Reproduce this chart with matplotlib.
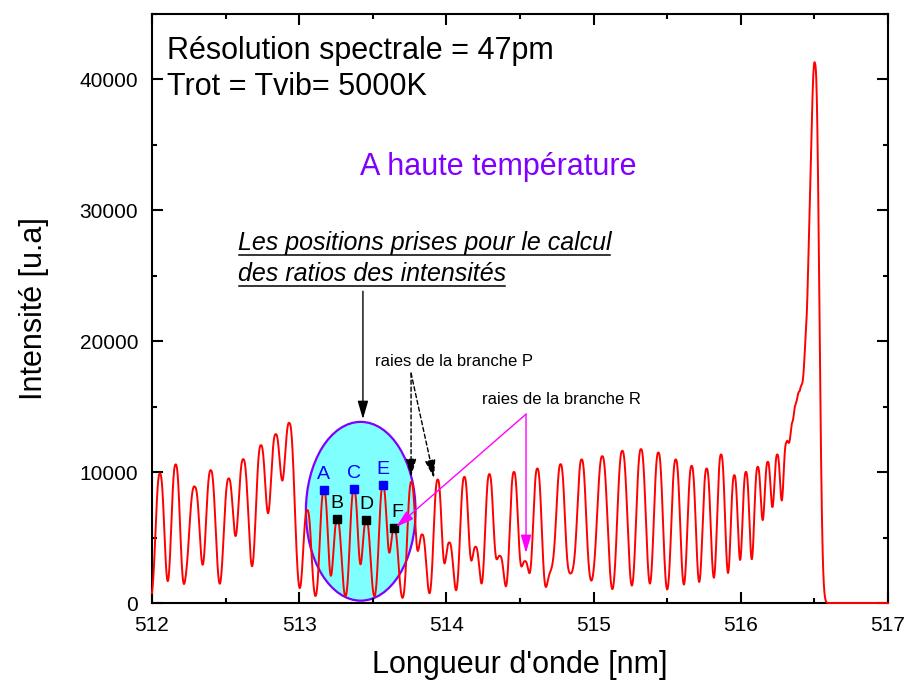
import numpy as np
import matplotlib
matplotlib.use('Agg')
import matplotlib.pyplot as plt
from matplotlib.patches import Ellipse
from matplotlib.ticker import MultipleLocator

plt.rcParams['font.family'] = ['Liberation Sans', 'DejaVu Sans']

# lines: centre (nm), summit intensity (u.a), apparent width (pm)
line_nm = [512.054, 512.161, 512.245, 512.292, 512.399, 512.521, 512.620, 512.740, 512.840, 512.933,
           513.055, 513.168, 513.259, 513.372, 513.456, 513.569, 513.646, 513.762, 513.836, 513.941,
           514.020, 514.122, 514.199, 514.292, 514.365, 514.459, 514.535, 514.618, 514.710, 514.776,
           514.850, 514.919, 514.990,
           515.059, 515.195, 515.322, 515.440, 515.558, 515.666, 515.768, 515.866, 515.956,
           516.035, 516.115, 516.183, 516.248, 516.309, 516.355, 516.400, 516.450,
           516.504]
line_peak = [9900, 10590, 4050, 8880, 10150, 9520, 10990, 12060, 12900, 13760,
             7100, 8630, 6410, 8700, 6340, 9010, 5700, 9260, 5240, 9440,
             4630, 9640, 4300, 9850, 3600, 10020, 3200, 10280, 2500, 10610,
             2300, 10970, 1800,
             11220, 11630, 11760, 11500, 10970, 10480, 10280, 11350, 9770,
             10020, 10410, 10790, 11350, 12270, 14000, 16200, 22600,
             41250]
line_fwhm_pm = [64, 64, 50, 72, 72, 72, 78, 76, 80, 78,
                60, 60, 60, 60, 60, 60, 60, 60, 58, 60,
                58, 62, 56, 62, 56, 62, 56, 64, 56, 66,
                56, 68, 56,
                76, 74, 70, 66, 64, 61, 60, 59, 54,
                54, 55, 54, 54, 48, 44, 50, 50,
                64]
profile_exp = 2.5   # flat-topped instrument profile

# positions used for the intensity ratios
ratio_labels = ['A', 'B', 'C', 'D', 'E', 'F']
ratio_nm = [513.168, 513.259, 513.372, 513.456, 513.569, 513.646]
ratio_int = [8630, 6410, 8700, 6340, 9010, 5700]
ratio_colors = ['#0000ff', 'black', '#0000ff', 'black', '#0000ff', 'black']

x_ticks = [512, 513, 514, 515, 516, 517]
y_ticks = [0, 10000, 20000, 30000, 40000]


def profile(d, w):
    return np.exp(-np.log(2) * np.abs(2 * d / w) ** profile_exp)


def synth_spectrum(wl):
    pos = np.array(line_nm)
    w = np.array(line_fwhm_pm) * 1e-3
    # amplitudes so that each summit lands on the height read on the chart
    g = profile(pos[:, None] - pos[None, :], w[None, :])
    amp = np.linalg.solve(g, np.array(line_peak, dtype=float))
    return (amp * profile(wl[:, None] - pos, w)).sum(axis=1)


def underline(fig, ax, txt, x, y, gap=5):
    fig.canvas.draw()
    bb = txt.get_window_extent()
    _, yb = ax.transData.transform((x, y))
    inv = ax.transData.inverted()
    p0 = inv.transform((bb.x0 + 1, yb - gap))
    p1 = inv.transform((bb.x1 - 1, yb - gap))
    ax.plot([p0[0], p1[0]], [p0[1], p1[1]], color='black', lw=1.1,
            clip_on=False, zorder=6)


fig = plt.figure(figsize=(9.09, 6.84), dpi=100)
ax = fig.add_axes([0.1672, 0.1184, 0.8097, 0.8611])

wl = np.linspace(512, 517, 4001)
ax.add_patch(Ellipse((513.418, 7010), 0.745, 13660, facecolor='#80ffff',
                     edgecolor='#8000ff', lw=1.6, zorder=1))
ax.plot(wl, synth_spectrum(wl), color='red', lw=1.4, zorder=3, clip_on=False)

for lab, x, y, c in zip(ratio_labels, ratio_nm, ratio_int, ratio_colors):
    ax.plot(x, y, marker='s', ms=6, color=c, ls='none', zorder=4)
    dx = 2 if lab == 'F' else 0
    ax.annotate(lab, (x, y), xytext=(dx, 8), textcoords='offset points',
                ha='center', va='baseline', fontsize=14, color=c, zorder=5)

ax.text(512.102, 41580, 'Résolution spectrale = 47pm', fontsize=22, va='baseline')
ax.text(512.102, 38780, 'Trot = Tvib= 5000K', fontsize=22, va='baseline')
ax.text(513.413, 32670, 'A haute température', fontsize=22, va='baseline',
        color='#8000ff')

t1 = ax.text(512.584, 26950, 'Les positions prises pour le calcul', fontsize=18,
             style='italic', va='baseline')
t2 = ax.text(512.584, 24600, 'des ratios des intensités', fontsize=18,
             style='italic', va='baseline')

ax.text(513.515, 18090, 'raies de la branche P', fontsize=12, va='baseline')
ax.text(514.240, 15190, 'raies de la branche R', fontsize=12, va='baseline')

head = '-|>,head_length=1.1,head_width=0.32'
ax.annotate('', xy=(513.433, 14050), xytext=(513.433, 23820),
            arrowprops=dict(arrowstyle=head, color='black', lw=1,
                            shrinkA=0, shrinkB=0), zorder=5)
for end in [(513.760, 9620), (513.916, 9540)]:
    ax.annotate('', xy=end, xytext=(513.760, 17560),
                arrowprops=dict(arrowstyle=head, color='black', lw=1, ls=(0, (3, 2)),
                                shrinkA=0, shrinkB=0), zorder=5)
for end in [(514.541, 3820), (513.658, 5800)]:
    ax.annotate('', xy=end, xytext=(514.541, 14430),
                arrowprops=dict(arrowstyle=head, color='#ff00ff', lw=1,
                                shrinkA=0, shrinkB=0), zorder=5)

ax.set_xlim(512, 517)
ax.set_ylim(0, 45000)
ax.set_xticks(x_ticks)
ax.set_yticks(y_ticks)
ax.xaxis.set_minor_locator(MultipleLocator(0.5))
ax.yaxis.set_minor_locator(MultipleLocator(5000))
ax.tick_params(which='both', direction='in', top=True, right=True, width=1.5,
               labelsize=15, pad=9)
ax.tick_params(axis='y', pad=10)
ax.tick_params(which='major', length=8)
ax.tick_params(which='minor', length=3.6)
for sp in ax.spines.values():
    sp.set_linewidth(1.5)

ax.set_xlabel("Longueur d'onde [nm]", fontsize=22, labelpad=11)
ax.set_ylabel('Intensité [u.a]', fontsize=22, labelpad=22)

underline(fig, ax, t1, 512.584, 26950)
underline(fig, ax, t2, 512.584, 24600)

fig.savefig('out.png', dpi=100)
